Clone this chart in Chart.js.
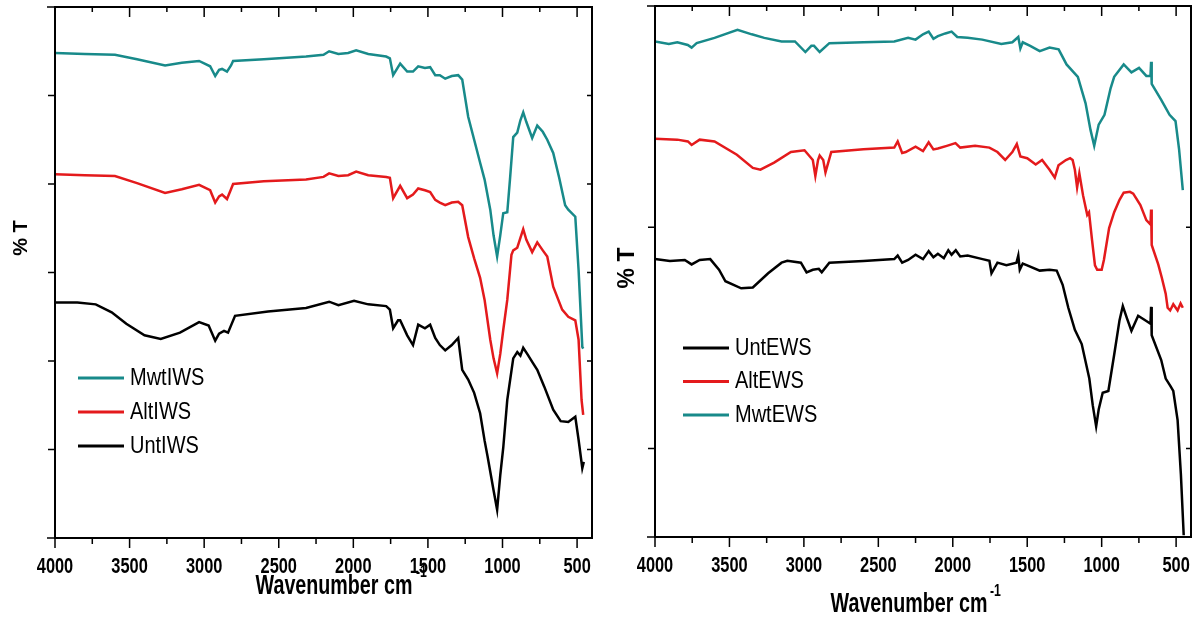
<!DOCTYPE html>
<html>
<head>
<meta charset="utf-8">
<script src="https://cdn.jsdelivr.net/npm/chart.js@4/dist/chart.umd.min.js"></script>
<style>
  html, body { margin: 0; padding: 0; background: #fff; }
  #wrap { position: relative; width: 1200px; height: 618px; }
  .panel { position: absolute; top: 0; width: 600px; height: 618px; }
</style>
</head>
<body>
<div id="wrap">
  <div class="panel" style="left:0"><canvas id="iwsChart" width="600" height="618"></canvas></div>
  <div class="panel" style="left:600px"><canvas id="ewsChart" width="600" height="618"></canvas></div>
</div>
<script>
// x ticks (wavenumber, cm-1), both panels
var majorTicks = [4000, 3500, 3000, 2500, 2000, 1500, 1000, 500];
var minorTicks = [3750, 3250, 2750, 2250, 1750, 1250, 750];

// ---- left panel: IWS ----
var mwtIwsWn = [4000, 3800, 3598, 3450, 3262, 3150, 3034, 2960, 2926, 2900, 2880, 2847, 2820, 2806, 2600, 2317, 2200, 2162, 2100, 2035, 1981, 1900, 1780, 1755, 1733, 1686, 1639, 1600, 1565, 1520, 1485, 1451, 1420, 1384, 1340, 1297, 1270, 1230, 1190, 1150, 1120, 1082, 1060, 1036, 1015, 995, 968, 950, 928, 901, 880, 861, 840, 801, 767, 730, 700, 660, 620, 580, 559, 512, 490, 465, 459];
var mwtIwsT = [54.8, 54.7, 54.6, 54.1, 53.4, 53.7, 53.9, 53.3, 52.2, 52.9, 53.0, 52.7, 53.4, 53.9, 54.1, 54.4, 54.6, 55.0, 54.7, 54.8, 55.1, 54.7, 54.4, 54.2, 52.3, 53.6, 52.7, 52.7, 53.3, 53.1, 53.2, 52.3, 52.3, 51.9, 52.2, 52.3, 51.8, 47.6, 45.0, 42.4, 40.5, 37.1, 34.2, 31.8, 34.2, 36.7, 36.8, 40.5, 45.3, 45.8, 47.2, 48.1, 47.0, 45.2, 46.6, 45.9, 45.0, 43.5, 40.7, 37.6, 37.1, 36.3, 30.3, 21.6, 21.4];

var altIwsWn = [4000, 3800, 3598, 3450, 3262, 3150, 3034, 2960, 2926, 2900, 2880, 2847, 2820, 2806, 2600, 2317, 2200, 2162, 2100, 2035, 1981, 1900, 1780, 1755, 1733, 1686, 1639, 1600, 1565, 1520, 1485, 1451, 1420, 1384, 1340, 1297, 1270, 1230, 1190, 1150, 1120, 1082, 1060, 1036, 1015, 995, 968, 940, 928, 901, 880, 861, 840, 801, 767, 730, 700, 660, 600, 559, 512, 490, 470, 459];
var altIwsT = [41.1, 41.0, 40.9, 40.1, 39.0, 39.4, 39.9, 39.3, 37.9, 38.6, 38.8, 38.3, 39.4, 40.0, 40.3, 40.5, 40.8, 41.2, 40.9, 41.0, 41.4, 41.0, 40.8, 40.7, 38.4, 39.8, 38.4, 38.8, 39.5, 39.3, 39.1, 38.2, 37.9, 37.6, 37.9, 38.0, 37.6, 34.0, 31.6, 29.4, 26.9, 22.4, 20.3, 18.6, 20.8, 23.5, 26.9, 32.0, 32.5, 32.8, 33.9, 34.9, 33.7, 32.3, 33.4, 32.5, 31.8, 28.4, 25.8, 25.0, 24.6, 22.4, 15.6, 13.9];

var untIwsWn = [4000, 3850, 3727, 3620, 3522, 3400, 3291, 3162, 3034, 2970, 2926, 2900, 2867, 2840, 2793, 2572, 2317, 2162, 2100, 1995, 1900, 1780, 1755, 1733, 1700, 1686, 1639, 1600, 1565, 1520, 1485, 1451, 1420, 1384, 1340, 1297, 1270, 1230, 1190, 1150, 1120, 1100, 1060, 1036, 1015, 995, 968, 928, 901, 880, 861, 830, 801, 767, 720, 660, 610, 559, 512, 490, 465, 455];
var untIwsT = [26.6, 26.6, 26.4, 25.5, 24.2, 22.9, 22.5, 23.2, 24.4, 24.0, 22.3, 23.1, 23.4, 23.2, 25.1, 25.6, 26.0, 26.7, 26.3, 26.8, 26.4, 26.2, 25.8, 23.7, 24.6, 24.6, 22.9, 21.8, 24.1, 23.7, 24.1, 22.6, 21.8, 21.2, 21.8, 22.6, 19.0, 17.9, 16.4, 14.1, 11.0, 9.2, 5.4, 3.2, 7.1, 10.2, 15.6, 20.3, 21.0, 20.6, 21.5, 20.7, 19.9, 19.0, 17.1, 14.5, 13.2, 13.1, 13.7, 11.1, 7.9, 8.6];

// ---- right panel: EWS ----
var untEwsWn = [4000, 3900, 3800, 3754, 3700, 3629, 3570, 3527, 3421, 3343, 3240, 3150, 3111, 3020, 2982, 2940, 2900, 2880, 2829, 2600, 2393, 2370, 2340, 2300, 2250, 2200, 2162, 2130, 2100, 2060, 2030, 2008, 1980, 1950, 1900, 1800, 1754, 1740, 1700, 1640, 1572, 1560, 1550, 1530, 1500, 1416, 1350, 1302, 1262, 1224, 1180, 1134, 1083, 1060, 1037, 1020, 993, 955, 916, 880, 858, 830, 800, 755, 700, 672, 668, 664, 600, 570, 540, 519, 490, 468, 449];
var untEwsT = [31.4, 31.2, 31.3, 30.8, 31.3, 31.4, 30.2, 28.9, 28.1, 28.2, 29.8, 31.0, 31.2, 31.0, 29.9, 30.2, 30.3, 29.9, 31.0, 31.2, 31.4, 31.8, 31.0, 31.3, 31.9, 31.4, 32.3, 31.6, 32.0, 31.5, 32.4, 31.9, 32.4, 31.7, 31.8, 31.4, 31.2, 29.8, 31.0, 30.7, 31.0, 31.8, 30.2, 30.9, 30.7, 30.1, 30.2, 30.1, 28.5, 25.9, 23.4, 21.8, 17.9, 14.9, 12.5, 14.4, 16.3, 16.5, 20.6, 24.5, 26.1, 24.7, 23.3, 25.0, 24.4, 24.1, 26.0, 22.8, 20.0, 17.9, 17.1, 16.5, 13.2, 7.1, 0.2];

var altEwsWn = [4000, 3850, 3779, 3754, 3700, 3600, 3450, 3343, 3292, 3200, 3087, 2996, 2940, 2923, 2905, 2894, 2870, 2855, 2816, 2600, 2393, 2370, 2340, 2316, 2250, 2200, 2162, 2130, 2100, 2040, 1982, 1950, 1850, 1754, 1700, 1648, 1600, 1570, 1546, 1500, 1443, 1400, 1350, 1315, 1290, 1240, 1212, 1195, 1180, 1165, 1150, 1125, 1097, 1085, 1065, 1045, 1030, 1000, 985, 950, 916, 880, 852, 810, 788, 740, 700, 672, 668, 664, 620, 596, 570, 557, 540, 519, 490, 470, 455];
var altEwsT = [45.0, 44.9, 44.7, 44.3, 44.9, 44.7, 43.2, 41.7, 41.5, 42.3, 43.5, 43.7, 42.6, 40.8, 42.6, 43.1, 42.6, 41.2, 43.5, 43.8, 44.0, 44.7, 43.4, 43.5, 44.1, 43.6, 44.6, 43.8, 43.9, 44.2, 44.5, 44.0, 44.2, 44.0, 43.5, 42.6, 43.5, 44.4, 43.0, 42.8, 42.1, 42.6, 41.5, 40.6, 42.0, 42.6, 42.8, 42.6, 41.5, 39.5, 41.1, 38.6, 36.4, 36.7, 33.6, 30.7, 30.2, 30.2, 31.3, 34.9, 36.7, 38.1, 38.9, 39.0, 38.8, 37.5, 35.8, 35.3, 37.0, 33.0, 30.8, 29.3, 27.5, 25.9, 25.6, 26.3, 25.6, 26.4, 25.9];

var mwtEwsWn = [4000, 3907, 3850, 3780, 3754, 3720, 3600, 3446, 3350, 3266, 3150, 3060, 2990, 2950, 2932, 2894, 2829, 2600, 2393, 2300, 2250, 2200, 2162, 2130, 2100, 2050, 2008, 1970, 1900, 1802, 1674, 1600, 1560, 1546, 1530, 1480, 1416, 1350, 1289, 1236, 1160, 1108, 1075, 1050, 1020, 981, 940, 916, 852, 800, 749, 700, 672, 668, 664, 600, 544, 504, 480, 455];
var mwtEwsT = [56.0, 55.7, 55.9, 55.6, 55.3, 55.8, 56.4, 57.3, 56.8, 56.4, 56.0, 56.0, 54.8, 55.5, 55.5, 54.8, 55.8, 55.9, 56.0, 56.4, 56.2, 56.8, 57.1, 56.3, 56.6, 56.9, 57.1, 56.5, 56.4, 56.2, 55.7, 55.9, 56.5, 55.2, 55.9, 55.5, 54.9, 55.3, 55.1, 53.4, 52.0, 49.0, 46.0, 44.2, 46.6, 47.7, 50.7, 52.0, 53.4, 52.5, 53.0, 52.1, 52.1, 53.7, 51.2, 49.4, 47.7, 47.0, 43.8, 39.2];

var TEAL = "#188a8a";
var RED = "#e41a1c";
var BLACK = "#000000";
var SANS = '"Liberation Sans", Arial, sans-serif';

function pairs(xs, ys) {
  return xs.map(function (x, i) {
    return { x: x, y: ys[i] };
  });
}

function line(label, xs, ys, color) {
  return {
    label: label,
    data: pairs(xs, ys),
    borderColor: color,
    backgroundColor: color,
    borderWidth: 2.5,
    pointRadius: 0,
    tension: 0,
    fill: false,
  };
}

// narrow (horizontally squeezed) text, like the Origin export
function squeezed(ctx, text, x, y, sx, sy) {
  ctx.save();
  ctx.translate(x, y);
  ctx.scale(sx, sy);
  ctx.fillText(text, 0, 0);
  ctx.restore();
}

// draws frame, ticks, tick labels, titles and legend
var framePlugin = {
  id: "frame",
  afterDraw: function (chart, args, opts) {
    var ctx = chart.ctx;
    var a = chart.chartArea;
    var xs = chart.scales.x;
    var ys = chart.scales.y;
    ctx.save();
    ctx.strokeStyle = "#000";
    ctx.lineWidth = 2;
    ctx.strokeRect(a.left, a.top, a.right - a.left, a.bottom - a.top);

    ctx.lineWidth = 1.5;
    ctx.beginPath();
    ctx.moveTo(a.left - 8, a.top);
    ctx.lineTo(a.left, a.top);
    ctx.moveTo(a.left - 8, a.bottom);
    ctx.lineTo(a.left, a.bottom);
    majorTicks.concat(minorTicks).forEach(function (w) {
      var x = xs.getPixelForValue(w);
      var major = majorTicks.indexOf(w) >= 0;
      ctx.moveTo(x, a.bottom);
      ctx.lineTo(x, a.bottom + (major ? 10 : 6));
      ctx.moveTo(x, a.top);
      ctx.lineTo(x, a.top + (major ? 10 : 5));
    });
    opts.yTicks.forEach(function (v) {
      var y = ys.getPixelForValue(v);
      ctx.moveTo(a.left - 7, y);
      ctx.lineTo(a.left, y);
      ctx.moveTo(a.right, y);
      ctx.lineTo(a.right - 5, y);
    });
    ctx.stroke();

    // x tick labels
    ctx.fillStyle = "#000";
    ctx.font = "bold 20px " + SANS;
    ctx.textAlign = "center";
    ctx.textBaseline = "alphabetic";
    majorTicks.forEach(function (w) {
      squeezed(ctx, String(w), xs.getPixelForValue(w), a.bottom + 35, 0.82, 1.07);
    });

    // x title
    ctx.font = "bold 24px " + SANS;
    squeezed(ctx, "Wavenumber cm", opts.titleX, opts.titleY, 0.82, 1.15);
    ctx.font = "bold 15px " + SANS;
    ctx.textAlign = "left";
    squeezed(ctx, "-1", opts.supX, opts.supY, 0.82, 1.1);

    // y title
    ctx.save();
    ctx.translate(opts.yTitleX, opts.yTitleY);
    ctx.rotate(-Math.PI / 2);
    ctx.font = "bold " + opts.yTitleSize + "px " + SANS;
    ctx.textAlign = "center";
    ctx.textBaseline = "middle";
    ctx.fillText("% T", 0, 0);
    ctx.restore();

    // legend
    ctx.font = "20px " + SANS;
    ctx.textAlign = "left";
    ctx.textBaseline = "middle";
    opts.legendOrder.forEach(function (idx, i) {
      var ds = chart.data.datasets[idx];
      var y = opts.legendY + i * opts.legendGap;
      ctx.strokeStyle = ds.borderColor;
      ctx.lineWidth = 3;
      ctx.beginPath();
      ctx.moveTo(opts.legendX, y);
      ctx.lineTo(opts.legendX + 46, y);
      ctx.stroke();
      ctx.fillStyle = "#000";
      squeezed(ctx, ds.label, opts.legendX + 52, y, 1, 1.2);
    });
    ctx.restore();
  },
};

function makeChart(id, datasets, pad, extra) {
  var ctx = document.getElementById(id).getContext("2d");
  return new Chart(ctx, {
    type: "line",
    data: { datasets: datasets },
    options: {
      responsive: false,
      animation: false,
      layout: { padding: pad },
      plugins: {
        legend: { display: false },
        tooltip: { enabled: false },
        frame: extra,
      },
      scales: {
        x: { type: "linear", display: false, min: 400, max: 4000, reverse: true },
        y: { display: false, min: 0, max: 60 },
      },
    },
    plugins: [framePlugin],
  });
}

makeChart(
  "iwsChart",
  [
    line("MwtIWS", mwtIwsWn, mwtIwsT, TEAL),
    line("AltIWS", altIwsWn, altIwsT, RED),
    line("UntIWS", untIwsWn, untIwsT, BLACK),
  ],
  { left: 55, right: 8, top: 7, bottom: 80 },
  {
    yTicks: [10, 20, 30, 40, 50],
    titleX: 334, titleY: 594, supX: 416, supY: 577,
    yTitleX: 21, yTitleY: 238, yTitleSize: 20,
    legendX: 78, legendY: 378, legendGap: 34,
    legendOrder: [0, 1, 2],
  }
);

makeChart(
  "ewsChart",
  [
    line("UntEWS", untEwsWn, untEwsT, BLACK),
    line("AltEWS", altEwsWn, altEwsT, RED),
    line("MwtEWS", mwtEwsWn, mwtEwsT, TEAL),
  ],
  { left: 55, right: 9, top: 6, bottom: 81 },
  {
    yTicks: [10, 35],
    titleX: 309, titleY: 612, supX: 390, supY: 596,
    yTitleX: 28, yTitleY: 268, yTitleSize: 23,
    legendX: 83, legendY: 348, legendGap: 33.5,
    legendOrder: [0, 1, 2],
  }
);
</script>
</body>
</html>
